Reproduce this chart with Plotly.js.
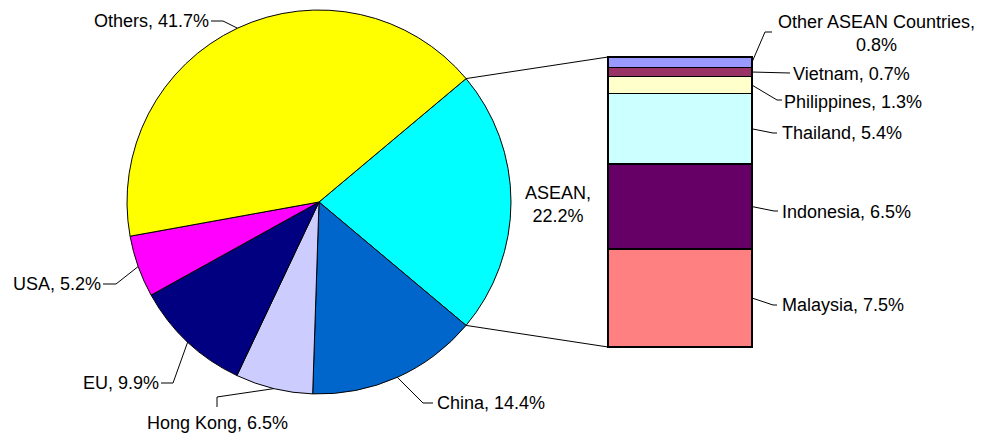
<!DOCTYPE html>
<html>
<head>
<meta charset="utf-8">
<script src="https://cdn.plot.ly/plotly-3.0.1.min.js"></script>
<style>html,body{margin:0;padding:0;background:#fff;}#chart{width:982px;height:438px;}</style>
</head>
<body>
<div id="chart"></div>
<script>
// ---- data ----
const regions = ['ASEAN', 'China', 'Hong Kong', 'EU', 'USA', 'Others'];
const regionShares = [22.2, 14.4, 6.5, 9.9, 5.2, 41.7];
const regionColors = ['#00FFFF', '#0066CC', '#CCCCFF', '#000080', '#FF00FF', '#FFFF00'];

const aseanCountries = ['Malaysia', 'Indonesia', 'Thailand', 'Philippines', 'Vietnam', 'Other ASEAN Countries'];
const aseanShares = [7.5, 6.5, 5.4, 1.3, 0.7, 0.8];
const aseanColors = ['#FF8080', '#660066', '#CCFFFF', '#FFFFCC', '#993366', '#9999FF'];

// ---- layout geometry (pixels) ----
const W = 982, H = 438;
const pie = {cx: 319, cy: 202, r: 192};
const bar = {x0: 608, x1: 752, y0: 57, y1: 347};
const PAD = 10; // extra pixels around the bar so its outline is not clipped
const px = x => x / W;
const py = y => 1 - y / H;
const FONT = {family: '"Liberation Sans", Arial, sans-serif', size: 18, color: '#000'};

const total = regionShares.reduce((a, b) => a + b, 0);
const aseanTotal = aseanShares.reduce((a, b) => a + b, 0);
const rotation = 90 - (regionShares[0] / total * 360) / 2;

// slice angles (clockwise from 12 o'clock)
const midAngles = [];
let acc = rotation;
regionShares.forEach(v => {
  const span = v / total * 360;
  midAngles.push(acc + span / 2);
  acc += span;
});
const edgePt = (deg) => {
  const a = deg * Math.PI / 180;
  return [pie.cx + pie.r * Math.sin(a), pie.cy - pie.r * Math.cos(a)];
};
const pct = v => v.toFixed(1) + '%';

// label placements (layout): text anchor + leader elbow points
const pieLabelPos = {
  'ASEAN':     {x: 558, y: 204, xa: 'center', text: 'ASEAN,<br>' + pct(regionShares[0]), line: null},
  'China':     {x: 437, y: 403, xa: 'left',   line: [[423, 403], [433, 403]]},
  'Hong Kong': {x: 217, y: 423, xa: 'center', line: [[217, 397], [217, 407]]},
  'EU':        {x: 159, y: 383, xa: 'right',  line: [[173, 383], [161, 383]]},
  'USA':       {x: 101, y: 284, xa: 'right',  line: [[116, 284], [103, 284]]},
  'Others':    {x: 209, y: 21,  xa: 'right',  line: [[223, 21], [211, 21]]}
};
const barLabelPos = {
  'Malaysia':    {x: 782, y: 305, xa: 'left', line: [[773, 305], [777, 305]]},
  'Indonesia':   {x: 782, y: 212, xa: 'left', line: [[774, 211], [778, 211]]},
  'Thailand':    {x: 782, y: 133, xa: 'left', line: [[773, 133], [777, 133]]},
  'Philippines': {x: 784, y: 102, xa: 'left', line: [[777, 100], [782, 100]]},
  'Vietnam':     {x: 793, y: 74,  xa: 'left', line: [[790, 73]]},
  'Other ASEAN Countries': {x: 876, y: 34, xa: 'center', text: 'Other ASEAN Countries,<br>' + pct(aseanShares[5]), line: [[765, 32], [772, 32]]}
};

const annotations = [];
const shapes = [];
const lineStyle = {color: '#000', width: 1};
const pathFrom = pts => 'M ' + pts.map(p => px(p[0]) + ',' + py(p[1])).join(' L ');

regions.forEach((name, i) => {
  const L = pieLabelPos[name];
  annotations.push({
    xref: 'paper', yref: 'paper', x: px(L.x), y: py(L.y),
    xanchor: L.xa, yanchor: 'middle', showarrow: false,
    text: L.text || (name + ', ' + pct(regionShares[i])),
    font: FONT, align: 'center', borderpad: 0, borderwidth: 0
  });
  if (L.line) {
    const pts = [edgePt(midAngles[i])].concat(L.line);
    shapes.push({type: 'path', xref: 'paper', yref: 'paper', path: pathFrom(pts), line: lineStyle});
  }
});

let cum = 0;
aseanCountries.forEach((name, i) => {
  const mid = cum + aseanShares[i] / 2;
  cum += aseanShares[i];
  const yPix = bar.y1 - (mid / aseanTotal) * (bar.y1 - bar.y0);
  const L = barLabelPos[name];
  annotations.push({
    xref: 'paper', yref: 'paper', x: px(L.x), y: py(L.y),
    xanchor: L.xa, yanchor: 'middle', showarrow: false,
    text: L.text || (name + ', ' + pct(aseanShares[i])),
    font: FONT, align: 'center', borderpad: 0, borderwidth: 0
  });
  const pts = [[bar.x1, yPix]].concat(L.line);
  shapes.push({type: 'path', xref: 'paper', yref: 'paper', path: pathFrom(pts), line: lineStyle});
});

// connector lines from ASEAN slice edges to bar corners
const aseanSpan = regionShares[0] / total * 360;
const topEdge = edgePt(rotation);
const botEdge = edgePt(rotation + aseanSpan);
shapes.push({type: 'line', xref: 'paper', yref: 'paper', x0: px(topEdge[0]), y0: py(topEdge[1]), x1: px(bar.x0), y1: py(bar.y0), line: lineStyle});
shapes.push({type: 'line', xref: 'paper', yref: 'paper', x0: px(botEdge[0]), y0: py(botEdge[1]), x1: px(bar.x0), y1: py(bar.y1), line: lineStyle});

const traces = [{
  type: 'pie',
  labels: regions,
  values: regionShares,
  sort: false,
  direction: 'clockwise',
  rotation: rotation,
  marker: {colors: regionColors, line: {color: '#000', width: 1}},
  textinfo: 'none',
  hoverinfo: 'none',
  showlegend: false,
  domain: {x: [px(pie.cx - pie.r), px(pie.cx + pie.r)], y: [py(pie.cy + pie.r), py(pie.cy - pie.r)]}
}];
aseanCountries.forEach((name, i) => {
  traces.push({
    type: 'bar', name: name, x: [0], y: [aseanShares[i]], width: [1],
    marker: {color: aseanColors[i], line: {color: '#000', width: 1.5}},
    hoverinfo: 'none', showlegend: false, xaxis: 'x', yaxis: 'y'
  });
});

const xPadUnits = PAD / (bar.x1 - bar.x0);
const yPadUnits = PAD * aseanTotal / (bar.y1 - bar.y0);

const layout = {
  width: W, height: H,
  margin: {l: 0, r: 0, t: 0, b: 0},
  paper_bgcolor: '#fff', plot_bgcolor: 'rgba(0,0,0,0)',
  barmode: 'stack',
  showlegend: false,
  xaxis: {domain: [px(bar.x0 - PAD), px(bar.x1 + PAD)], range: [-0.5 - xPadUnits, 0.5 + xPadUnits], visible: false, fixedrange: true},
  yaxis: {domain: [py(bar.y1 + PAD), py(bar.y0 - PAD)], range: [-yPadUnits, aseanTotal + yPadUnits], visible: false, fixedrange: true},
  annotations: annotations,
  shapes: shapes,
  font: FONT
};

Plotly.newPlot('chart', traces, layout, {staticPlot: true, displayModeBar: false});
</script>
</body>
</html>
